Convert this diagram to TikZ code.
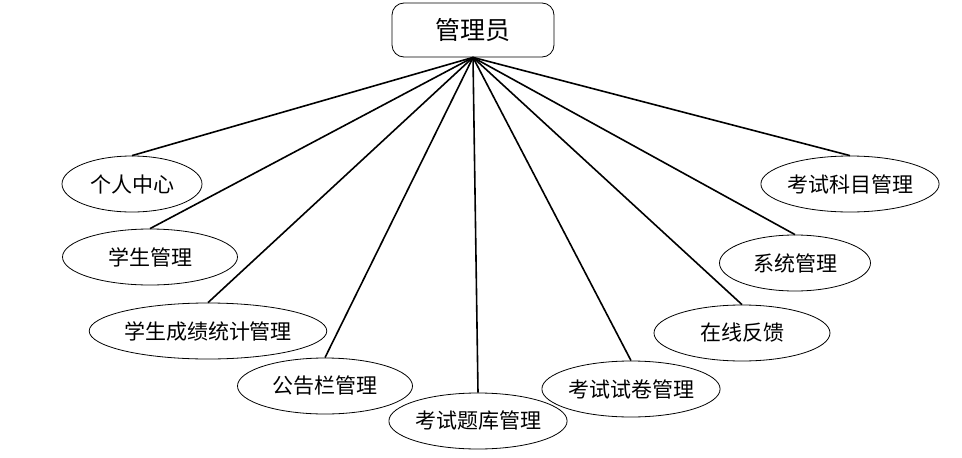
\documentclass[tikz,border=0pt]{standalone}
\usepackage{fontspec}
\setmainfont{Noto Sans CJK SC}
\usetikzlibrary{shapes.geometric}

\begin{document}
\begin{tikzpicture}[x=1pt, y=-1pt,
	func/.style={draw, ellipse, line width=0.8pt, minimum width=#1, minimum height=56pt, inner sep=0pt, font=\fontsize{21}{25}\selectfont},
	link/.style={line width=1.6pt}]
	\useasboundingbox (0, 0) rectangle (962, 458);
	\node[draw, line width=0.8pt, rounded corners=12pt, minimum width=162pt, minimum height=54pt, font=\fontsize{25}{30}\selectfont](admin) at (473, 30){管理员};
	\node[func=140pt](center) at (132, 184){个人中心};
	\node[func=175pt](student) at (150, 257){学生管理};
	\node[func=230pt](score) at (208, 331){学生成绩统计管理};
	\node[func=175pt](notice) at (325, 386){公告栏管理};
	\node[func=173pt](bank) at (478, 421){考试题库管理};
	\node[func=174pt](paper) at (631, 389){考试试卷管理};
	\node[func=176pt](feedback) at (742, 333){在线反馈};
	\node[func=151pt](system) at (795, 263){系统管理};
	\node[func=174pt](subject) at (850, 184){考试科目管理};
	\draw[link] (admin.south) -- (center.north);
	\draw[link] (admin.south) -- (student.north);
	\draw[link] (admin.south) -- (score.north);
	\draw[link] (admin.south) -- (notice.north);
	\draw[link] (admin.south) -- (bank.north);
	\draw[link] (admin.south) -- (paper.north);
	\draw[link] (admin.south) -- (feedback.north);
	\draw[link] (admin.south) -- (system.north);
	\draw[link] (admin.south) -- (subject.north);
\end{tikzpicture}
\end{document}
